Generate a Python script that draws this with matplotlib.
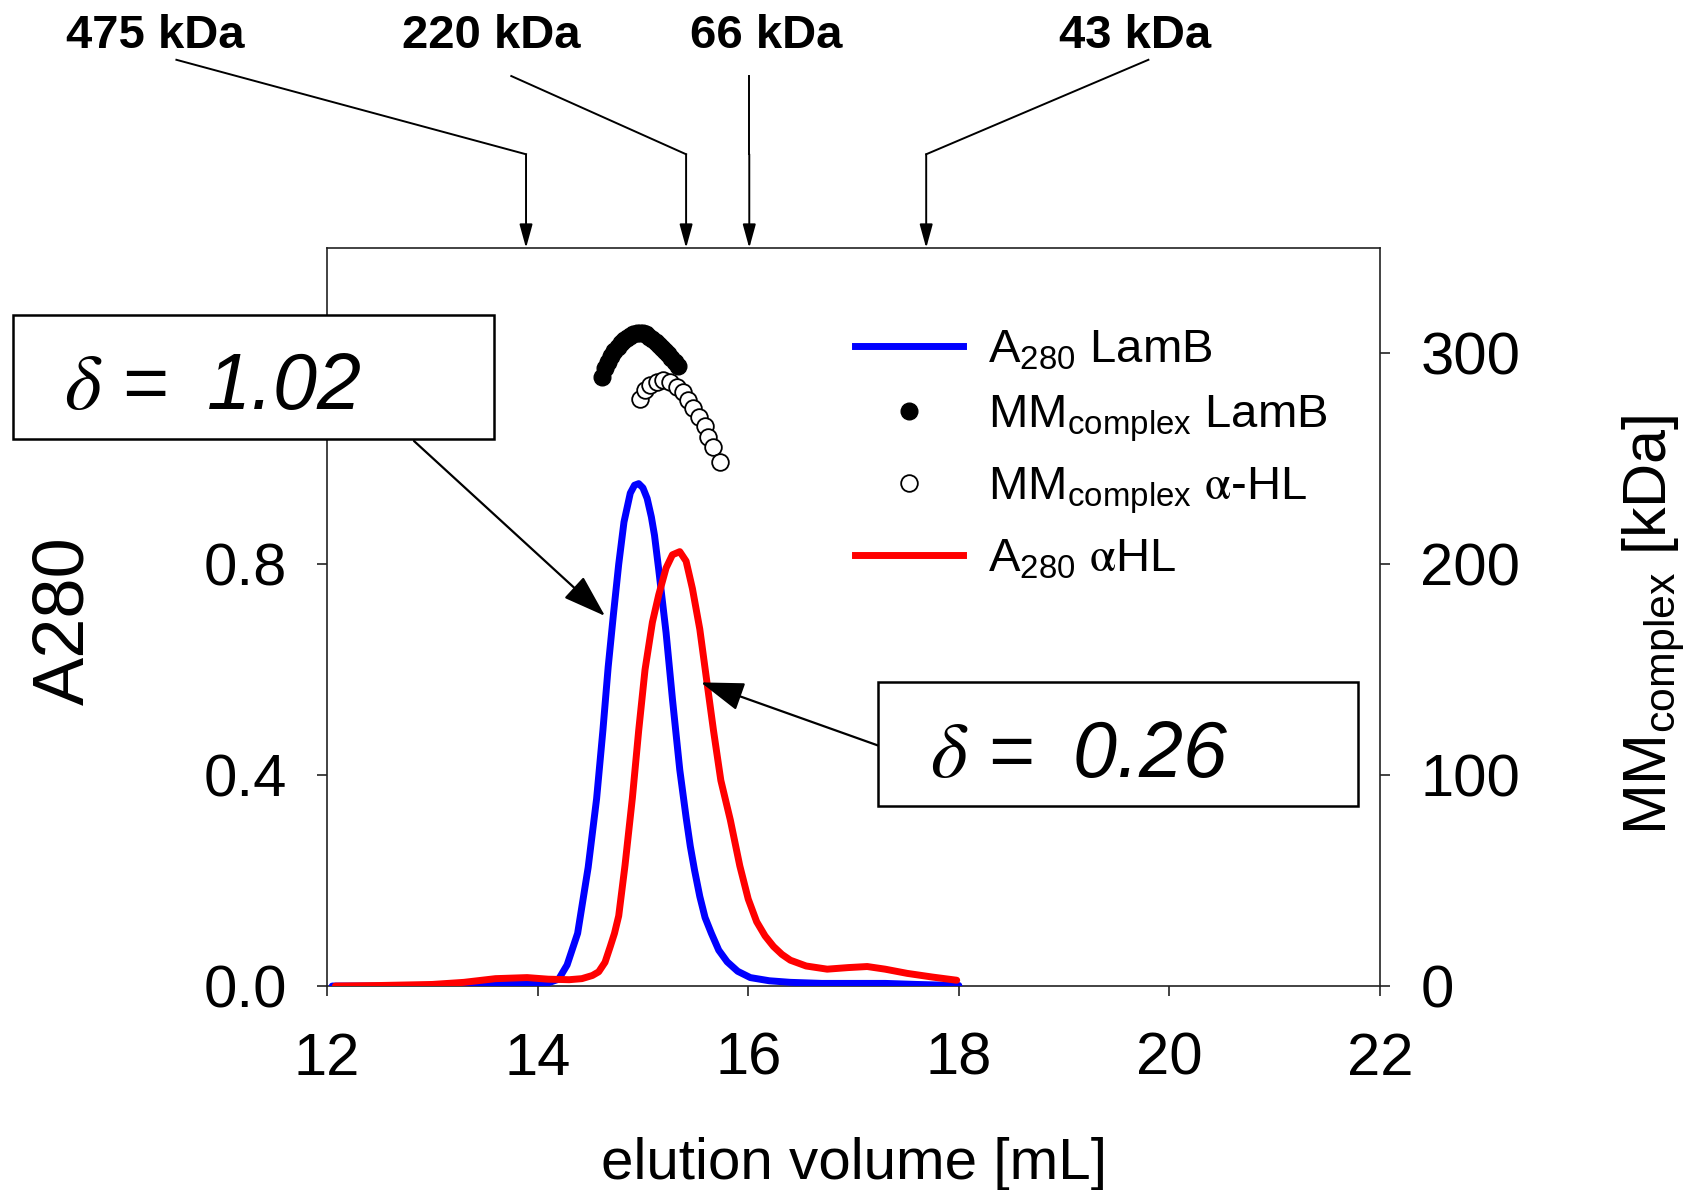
import matplotlib
matplotlib.use("Agg")
import matplotlib.pyplot as plt
from matplotlib.lines import Line2D
from matplotlib.patches import Rectangle

plt.rcParams['font.family'] = ['Liberation Sans', 'DejaVu Sans']
plt.rcParams['mathtext.fontset'] = 'custom'
plt.rcParams['mathtext.rm'] = 'Liberation Sans:italic'
plt.rcParams['mathtext.it'] = 'STIXGeneral:italic'
plt.rcParams['mathtext.sf'] = 'STIXGeneral'

# A280 traces (elution volume in mL, absorbance)
lamb_vol = [12.05, 12.5, 13.0, 13.5, 13.8, 14.0, 14.1, 14.2, 14.28, 14.38, 14.48, 14.56,
            14.62, 14.67, 14.72, 14.77, 14.82, 14.88, 14.92, 14.96, 15.00, 15.04, 15.08,
            15.11, 15.15, 15.22, 15.28, 15.35, 15.41, 15.45, 15.49, 15.54, 15.59, 15.65,
            15.72, 15.80, 15.90, 16.02, 16.2, 16.4, 16.7, 17.0, 17.3, 17.6, 18.0]
lamb_a280 = [0.000, 0.000, 0.001, 0.003, 0.004, 0.004, 0.006, 0.013, 0.040, 0.100, 0.225, 0.355,
             0.485, 0.605, 0.705, 0.800, 0.880, 0.935, 0.950, 0.953, 0.945, 0.925, 0.890,
             0.855, 0.790, 0.670, 0.545, 0.410, 0.320, 0.265, 0.220, 0.170, 0.130, 0.100,
             0.068, 0.046, 0.028, 0.016, 0.010, 0.007, 0.005, 0.005, 0.005, 0.003, 0.001]

ahl_vol = [12.08, 12.5, 13.0, 13.3, 13.6, 13.9, 14.1, 14.3, 14.42, 14.52, 14.58, 14.64,
           14.69, 14.73, 14.77, 14.83, 14.90, 14.96, 15.02, 15.09, 15.15, 15.22, 15.28,
           15.35, 15.41, 15.47, 15.54, 15.60, 15.67, 15.74, 15.83, 15.92, 16.00, 16.08,
           16.16, 16.24, 16.32, 16.40, 16.55, 16.75, 16.95, 17.13, 17.3, 17.51, 17.75, 17.98]
ahl_a280 = [0.000, 0.001, 0.003, 0.007, 0.014, 0.016, 0.013, 0.012, 0.014, 0.020, 0.027, 0.045,
            0.075, 0.100, 0.133, 0.229, 0.357, 0.485, 0.600, 0.690, 0.742, 0.793, 0.818,
            0.824, 0.806, 0.754, 0.677, 0.588, 0.485, 0.390, 0.315, 0.228, 0.165, 0.122,
            0.095, 0.075, 0.060, 0.049, 0.038, 0.032, 0.035, 0.037, 0.032, 0.024, 0.017, 0.011]

# complex molar mass (kDa)
mm_lamb_vol = [14.61, 14.64, 14.67, 14.70, 14.73, 14.76, 14.79, 14.82, 14.85, 14.88, 14.91,
               14.94, 14.97, 15.00, 15.03, 15.06, 15.09, 15.12, 15.15, 15.18, 15.21, 15.24,
               15.27, 15.30, 15.33]
mm_lamb = [289, 293, 296, 299, 301, 303, 305, 306.5, 307.5, 308.5, 309.2,
           309.6, 309.8, 309.5, 309, 308, 307, 305.5, 304, 302.5, 301, 299.5,
           298, 296, 294]
mm_ahl_vol = [14.97, 15.02, 15.07, 15.13, 15.19, 15.26, 15.32, 15.38, 15.43, 15.48, 15.53,
              15.59, 15.62, 15.67, 15.73]
mm_ahl = [278.6, 282.6, 285, 286.5, 287.3, 286.5, 284, 281.8, 277.8, 274, 270,
          265.5, 260.5, 255.7, 248.3]

# calibration standards
std_labels = ['475 kDa', '220 kDa', '66 kDa', '43 kDa']
std_vol = [13.89, 15.41, 16.01, 17.69]
# leader line start near each label (data x, axes y) and label centre x
std_line_x = [10.57, 13.75, 16.01, 19.80]
std_line_y = [1.255, 1.233, 1.233, 1.255]
std_text_x = [10.37, 13.56, 16.17, 19.67]

delta_lamb = '1.02'
delta_ahl = '0.26'

fig = plt.figure(figsize=(17.04, 11.9), dpi=100)
ax = fig.add_axes([0.1919, 0.1714, 0.6180, 0.6202])
ax2 = ax.twinx()

ax.plot(lamb_vol, lamb_a280, color='#0000ff', lw=5, solid_capstyle='round',
        solid_joinstyle='round', zorder=3)
ax.plot(ahl_vol, ahl_a280, color='#ff0000', lw=5, solid_capstyle='round',
        solid_joinstyle='round', zorder=3)

ax2.plot(mm_lamb_vol, mm_lamb, 'o', color='black', ms=12, zorder=3)
ax2.plot(mm_ahl_vol, mm_ahl, 'o', mfc='white', mec='black', mew=1.3, ms=12, zorder=3)

ax.set_xlim(12, 22)
ax.set_ylim(0, 1.4)
ax2.set_ylim(0, 350)
ax.set_xticks([12, 14, 16, 18, 20, 22])
ax.set_yticks([0.0, 0.4, 0.8])
ax.set_yticklabels(['0.0', '0.4', '0.8'])
ax2.set_yticks([0, 100, 200, 300])

spine_col = '#222222'
for a in (ax, ax2):
    for s in a.spines.values():
        s.set_color(spine_col)
        s.set_linewidth(1.2)
for s in ['left', 'top', 'bottom']:
    ax2.spines[s].set_visible(False)
ax.spines['right'].set_visible(False)

ax.tick_params(axis='both', direction='out', length=7, width=1.2, color=spine_col,
               labelsize=43, pad=22)
ax.tick_params(axis='x', pad=26)
ax2.tick_params(axis='y', direction='out', length=7, width=1.2, color=spine_col,
                labelsize=43, pad=22)

ax.set_xlabel('elution volume [mL]', fontsize=42)
ax.xaxis.set_label_coords(0.5, -0.262)
ax.xaxis.label.set_va('baseline')
ax.set_ylabel('A280', fontsize=52)
ax.yaxis.set_label_coords(-0.249, 0.495)
ax.yaxis.label.set_va('center')
ax2.set_ylabel(r'$\mathregular{MM_{complex}}$ [kDa]', fontsize=44)
ax2.yaxis.set_label_coords(1.260, 0.489)
ax2.yaxis.label.set_va('center')

# calibration markers above the frame
trans = ax.get_xaxis_transform()
bend_y = 1.127
for lab, v, lx, ly, tx in zip(std_labels, std_vol, std_line_x, std_line_y, std_text_x):
    ax.annotate('', xy=(v, 1.0), xytext=(v, bend_y), xycoords=trans, textcoords=trans,
                arrowprops=dict(arrowstyle='-|>,head_width=0.22,head_length=0.8', lw=1.4,
                                color='black', shrinkA=0, shrinkB=0, mutation_scale=18),
                annotation_clip=False)
    ax.plot([v, lx], [bend_y, ly], transform=trans, clip_on=False, color='black', lw=1.4)
    ax.text(tx, 1.287, lab, transform=trans, ha='center', va='center',
            fontsize=34, fontweight='bold')

# delta boxes
box_kw = dict(transform=ax2.transAxes, clip_on=False, facecolor='white',
              edgecolor='black', lw=1.8, zorder=10)
ax2.add_patch(Rectangle((-0.2982, 0.7412), 0.4568, 0.168, **box_kw))
ax2.add_patch(Rectangle((0.5233, 0.2439), 0.4558, 0.168, **box_kw))
ax2.text(-0.2498, 0.7818, r'$\delta$ = $\;' + delta_lamb + '$', transform=ax2.transAxes,
         fontsize=57, ha='left', va='baseline', zorder=11, clip_on=False)
ax2.text(0.5726, 0.2832, r'$\delta$ = $\;' + delta_ahl + '$', transform=ax2.transAxes,
         fontsize=57, ha='left', va='baseline', zorder=11, clip_on=False)

arr_kw = dict(arrowstyle='-|>,head_width=0.3,head_length=0.9', lw=1.6, color='black',
              shrinkA=0, shrinkB=0, mutation_scale=30)
ax2.annotate('', xy=(14.64, 0.702 * 250), xytext=(0.0826, 0.7385), xycoords='data',
             textcoords='axes fraction', arrowprops=arr_kw, zorder=9)
ax2.annotate('', xy=(15.55, 0.576 * 250), xytext=(0.5233, 0.3259), xycoords='data',
             textcoords='axes fraction', arrowprops=arr_kw, zorder=9)

handles = [
    Line2D([], [], color='#0000ff', lw=5),
    Line2D([], [], ls='none', marker='o', color='black', ms=12),
    Line2D([], [], ls='none', marker='o', mfc='white', mec='black', mew=1.3, ms=12),
    Line2D([], [], color='#ff0000', lw=5),
]
labels = [
    r'$\mathregular{A_{280}}$ LamB',
    r'$\mathregular{MM_{complex}}$ LamB',
    r'$\mathregular{MM_{complex}}$ $\mathsf{\alpha}$-HL',
    r'$\mathregular{A_{280}}$ $\mathsf{\alpha}$HL',
]
ax2.legend(handles, labels, loc='upper left', bbox_to_anchor=(0.501, 0.891),
           frameon=False, fontsize=34, handlelength=2.3, handletextpad=0.53,
           labelspacing=0.45, borderpad=0, borderaxespad=0)

fig.savefig('out.png', dpi=100)
